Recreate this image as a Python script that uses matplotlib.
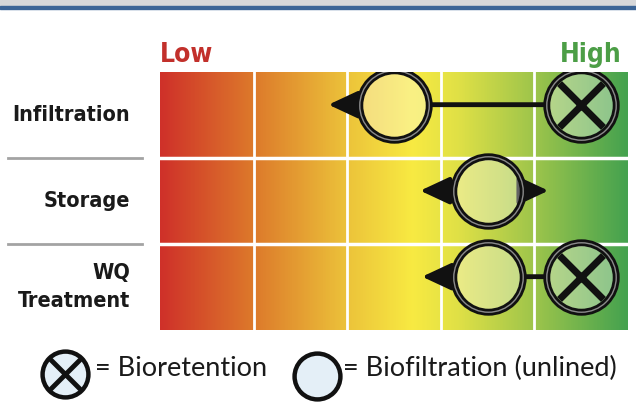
import os
import matplotlib
matplotlib.use("Agg")
import matplotlib.pyplot as plt
import numpy as np
from matplotlib import font_manager
from matplotlib.font_manager import FontProperties
from matplotlib.colors import LinearSegmentedColormap

# rows of the chart, top to bottom
rows = ["Infiltration", "Storage", "WQ\nTreatment"]
# position on the Low (0) .. High (5) scale
biofiltration = [2.5, 3.5, 3.5]
bioretention = [4.5, None, 4.5]
reach_low = [1.8, 2.78, 2.8]
reach_high = [None, 4.15, None]

grad_pos = [0, 1, 2, 2.7, 3.2, 4, 5]
grad_col = ["#cf3129", "#dd7a2b", "#ecc33a", "#f8ea42", "#dfe046", "#9ec54b", "#45a24f"]


def pick_font(files):
    found = {os.path.basename(f.fname): f.fname for f in font_manager.fontManager.ttflist}
    for name in files:
        if name in found:
            return found[name]
    return None


cond_path = pick_font(["LiberationSansNarrow-Bold.ttf", "DejaVuSansCondensed-Bold.ttf",
                       "RobotoCondensed-Bold.ttf"])
if cond_path:
    cond = FontProperties(fname=cond_path)
else:
    cond = FontProperties(family="DejaVu Sans", weight="bold", stretch="condensed")
names = {f.name for f in font_manager.fontManager.ttflist}
body = "Lato" if "Lato" in names else "DejaVu Sans"

fig = plt.figure(figsize=(6.36, 4.07), dpi=100)

# decoration layer in pixel units
deco = fig.add_axes([0, 0, 1, 1])
deco.set_xlim(0, 636)
deco.set_ylim(407, 0)
deco.axis("off")
deco.axhspan(0, 5.5, color="#d6d7d9")
deco.axhspan(5.5, 8.5, color="#3b6496")
for yy in [158, 244]:
    deco.plot([8, 142], [yy, yy], color="#a3a3a3", lw=2)

# grid
ax = fig.add_axes([160 / 636, 1 - 330 / 407, 468 / 636, 258 / 407])
cmap = LinearSegmentedColormap.from_list(
    "lowhigh", list(zip([p / 5 for p in grad_pos], grad_col)))
grad = np.linspace(0, 5, 600)[None, :]
ax.imshow(grad, cmap=cmap, vmin=0, vmax=5, extent=(0, 5, 3, 0), aspect="auto")
ax.set_xlim(0, 5)
ax.set_ylim(3, 0)
ax.axis("off")
for x in range(1, 5):
    ax.axvline(x, color="white", lw=2)
for y in range(1, 3):
    ax.axhline(y, color="white", lw=2.5)

ax.text(0, 1 + 10 / 258, "Low", transform=ax.transAxes, ha="left", va="baseline",
        fontproperties=cond, fontsize=19, color="#c2302b")
ax.text(0.987, 1 + 10 / 258, "High", transform=ax.transAxes, ha="right", va="baseline",
        fontproperties=cond, fontsize=19, color="#4c9e46")

ring = dict(ms=50, mfc=(1, 1, 1, 0.35), mec="#111111", mew=5, zorder=5)
shine = dict(ms=50, mfc="none", mec="#8a8a8a", mew=1, zorder=6)
head = "-|>,head_length=0.9,head_width=0.42"

for i, label in enumerate(rows):
    y = i + 0.38
    ax.text(-0.064, i + 0.5, label, transform=ax.get_yaxis_transform(),
            ha="right", va="center", fontproperties=cond, fontsize=15.5,
            color="#1a1a1a", linespacing=1.5)
    b = biofiltration[i]
    ax.annotate("", xy=(reach_low[i], y), xytext=(b, y),
                arrowprops=dict(arrowstyle=head, lw=3, color="#111111",
                                shrinkA=27, shrinkB=0, mutation_scale=20))
    if reach_high[i] is not None:
        ax.annotate("", xy=(reach_high[i], y), xytext=(b, y),
                    arrowprops=dict(arrowstyle=head, lw=3, color="#111111",
                                    shrinkA=27, shrinkB=0, mutation_scale=20))
    if bioretention[i] is not None:
        r = bioretention[i]
        ax.annotate("", xy=(r, y), xytext=(b, y),
                    arrowprops=dict(arrowstyle="-", lw=3.5, color="#111111",
                                    shrinkA=27, shrinkB=27))
        ax.plot(r, y, "o", **ring)
        ax.plot(r, y, "o", **shine)
        ax.plot(r, y, marker="x", ms=32, mew=5, color="#111111", zorder=7)
    ax.plot(b, y, "o", **ring)
    ax.plot(b, y, "o", **shine)

# legend
leg = dict(ms=33, mfc="#e4eff7", mec="#111111", mew=3.2, zorder=5)
deco.plot(65, 374, "o", **leg)
deco.plot(65, 374, marker="x", ms=22, mew=3.5, color="#111111", zorder=6)
deco.plot(317, 376, "o", **leg)
deco.text(95, 376, "= Bioretention", ha="left", va="baseline", fontsize=19.5,
          family=body, color="#1a1a1a")
deco.text(343, 376, "= Biofiltration (unlined)", ha="left", va="baseline",
          fontsize=19.5, family=body, color="#1a1a1a")

fig.savefig("out.png", dpi=100)
